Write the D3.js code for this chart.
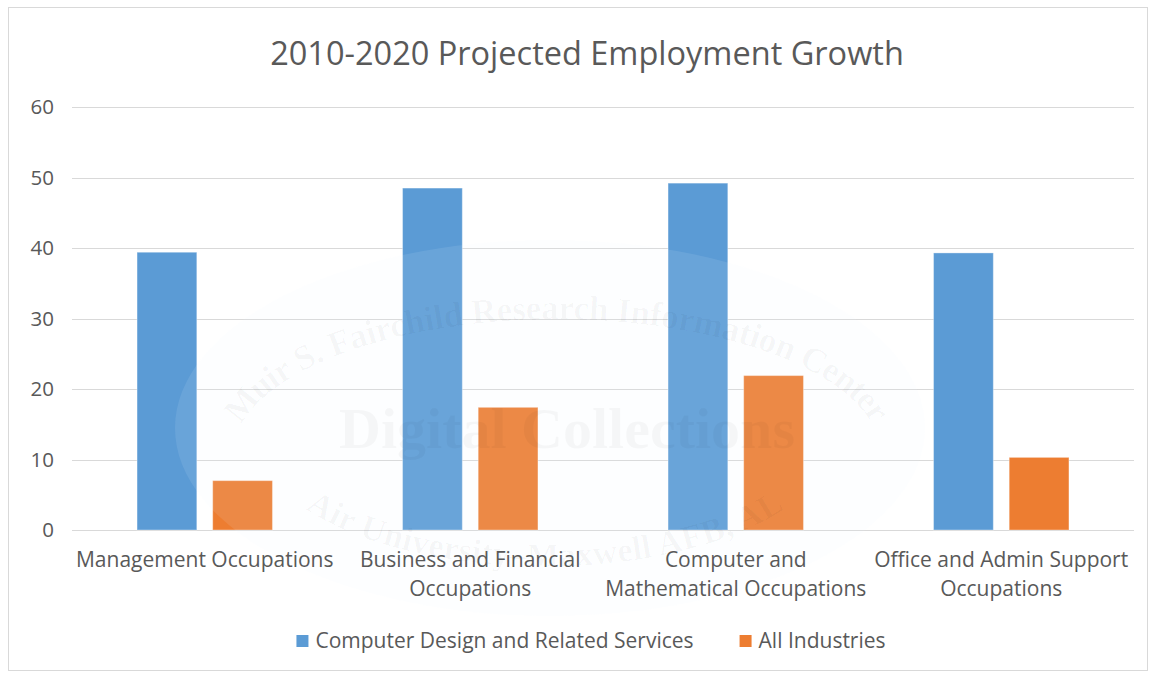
<!DOCTYPE html>
<html>
<head>
<meta charset="utf-8">
<script src="https://cdn.jsdelivr.net/npm/d3@7"></script>
<style>
  html, body { margin: 0; padding: 0; background: #fff; }
  svg { display: block; font-family: "Open Sans", "Noto Sans", sans-serif; }
</style>
</head>
<body>
<svg id="chart" width="1154" height="677"></svg>
<script>
// Chart data
const categories = [
  "Management Occupations",
  "Business and Financial Occupations",
  "Computer and Mathematical Occupations",
  "Office and Admin Support Occupations"
];
// How each category label breaks onto lines
const categoryLines = [
  ["Management Occupations"],
  ["Business and Financial", "Occupations"],
  ["Computer and", "Mathematical Occupations"],
  ["Office and Admin Support", "Occupations"]
];
const seriesNames = ["Computer Design and Related Services", "All Industries"];
const computerDesign = [39.4, 48.5, 49.2, 39.3];
const allIndustries = [7.0, 17.4, 21.9, 10.3];
const yTicks = [0, 10, 20, 30, 40, 50, 60];
const titleText = "2010-2020 Projected Employment Growth";

const colors = ["#5B9BD5", "#ED7D31"];
const textColor = "#595959";
const gridColor = "#d9d9d9";

const svg = d3.select("#chart");
const plot = { left: 72, right: 1134, top: 107, bottom: 530 };

// Outer chart border
svg.append("rect")
  .attr("x", 8.5).attr("y", 7.5)
  .attr("width", 1139).attr("height", 663)
  .attr("fill", "#fff").attr("stroke", gridColor).attr("stroke-width", 1);

// Title
svg.append("text")
  .attr("x", 587).attr("y", 65)
  .attr("text-anchor", "middle")
  .attr("font-size", 32.5)
  .attr("fill", textColor)
  .text(titleText);

// Scales
const x0 = d3.scaleBand().domain(categories).range([plot.left, plot.right]).padding(0);
const x1 = d3.scaleBand().domain(seriesNames)
  .range([0, x0.bandwidth()])
  .paddingInner(0.21).paddingOuter(0.86);
const y = d3.scaleLinear().domain([0, 60]).range([plot.bottom, plot.top]);

// Gridlines
svg.append("g")
  .selectAll("line")
  .data(yTicks)
  .join("line")
  .attr("x1", plot.left).attr("x2", plot.right)
  .attr("y1", d => Math.round(y(d)) + 0.5)
  .attr("y2", d => Math.round(y(d)) + 0.5)
  .attr("stroke", gridColor).attr("stroke-width", 1);

// Y axis tick labels
const yAxis = d3.axisLeft(y).tickValues(yTicks).tickSize(0).tickPadding(0);
const yg = svg.append("g")
  .attr("transform", `translate(${plot.left - 18},0)`)
  .call(yAxis);
yg.select(".domain").remove();
yg.selectAll("text")
  .attr("font-family", '"Open Sans", sans-serif')
  .attr("font-size", 20.5)
  .attr("fill", textColor);

// Bars
const seriesValues = [computerDesign, allIndustries];
const barData = [];
categories.forEach((c, i) => {
  seriesNames.forEach((s, j) => {
    barData.push({ cat: c, series: s, value: seriesValues[j][i], color: colors[j] });
  });
});
svg.append("g")
  .selectAll("rect")
  .data(barData)
  .join("rect")
  .attr("x", d => x0(d.cat) + x1(d.series))
  .attr("y", d => y(d.value))
  .attr("width", x1.bandwidth())
  .attr("height", d => y(0) - y(d.value))
  .attr("fill", d => d.color)
  .attr("stroke", "#ffffff").attr("stroke-opacity", 0.35).attr("stroke-width", 1);

// Watermark seal laid lightly over the plot
const wm = svg.append("g").attr("pointer-events", "none");
wm.append("ellipse")
  .attr("cx", 550).attr("cy", 428).attr("rx", 375).attr("ry", 188)
  .attr("fill", "#eaf2fb").attr("fill-opacity", 0.1);
const defs = svg.append("defs");
defs.append("path").attr("id", "arcTop")
  .attr("d", "M 224,450 A 333,142 0 0 1 890,450");
defs.append("path").attr("id", "arcBottom")
  .attr("d", "M 265,430 A 280,125 0 0 0 825,430");
const serif = '"Liberation Serif", "DejaVu Serif", serif';
wm.append("text")
  .attr("font-family", serif).attr("font-size", 35).attr("font-weight", "bold")
  .attr("fill", "#000").attr("fill-opacity", 0.03)
  .append("textPath").attr("href", "#arcTop")
  .attr("startOffset", "50%").attr("text-anchor", "middle")
  .attr("dominant-baseline", "central")
  .text("Muir S. Fairchild Research Information Center");
wm.append("text")
  .attr("font-family", serif).attr("font-size", 34).attr("font-weight", "bold")
  .attr("fill", "#000").attr("fill-opacity", 0.03)
  .append("textPath").attr("href", "#arcBottom")
  .attr("startOffset", "50%").attr("text-anchor", "middle")
  .attr("dominant-baseline", "central")
  .text("Air University\u2013Maxwell AFB, AL");
wm.append("text")
  .attr("x", 567).attr("y", 448)
  .attr("text-anchor", "middle")
  .attr("font-family", serif).attr("font-size", 58).attr("font-weight", "bold")
  .attr("fill", "#000").attr("fill-opacity", 0.03)
  .text("Digital Collections");

// Category labels
const catG = svg.append("g");
categories.forEach((c, i) => {
  const cxl = x0(c) + x0.bandwidth() / 2;
  const t = catG.append("text")
    .attr("x", cxl)
    .attr("y", 567)
    .attr("text-anchor", "middle")
    .attr("font-size", 21)
    .attr("fill", textColor);
  categoryLines[i].forEach((line, k) => {
    t.append("tspan")
      .attr("x", cxl)
      .attr("dy", k === 0 ? 0 : 29)
      .text(line);
  });
});

// Legend
const legend = svg.append("g");
const items = legend.selectAll("g").data(seriesNames).join("g");
items.append("rect")
  .attr("width", 12).attr("height", 12)
  .attr("y", -6)
  .attr("fill", (d, i) => colors[i]);
items.append("text")
  .attr("x", 19).attr("dy", "0.35em")
  .attr("font-size", 21)
  .attr("fill", textColor)
  .text(d => d);
let offset = 0;
const widths = [];
items.each(function () {
  widths.push(19 + this.querySelector("text").getComputedTextLength());
});
const itemGap = 46;
const total = d3.sum(widths) + itemGap * (widths.length - 1);
const startX = 591 - total / 2;
items.attr("transform", (d, i) => {
  const tx = startX + offset;
  offset += widths[i] + itemGap;
  return `translate(${tx},641)`;
});
</script>
</body>
</html>
